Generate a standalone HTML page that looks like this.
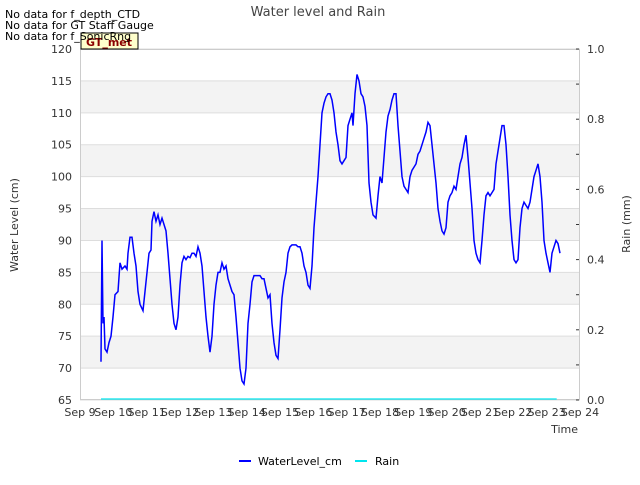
<!DOCTYPE html>
<html><head><meta charset="utf-8"><style>
body{margin:0;background:#fff;font-family:"Liberation Sans","DejaVu Sans",sans-serif}
svg text{font-family:"DejaVu Sans","Liberation Sans",sans-serif}
</style></head><body>
<svg id="chart" width="640" height="480" viewBox="0 0 640 480" xmlns="http://www.w3.org/2000/svg">
<g id="bands"></g><g id="grid"></g>
<rect x="80.5" y="49.5" width="499" height="350" fill="none" stroke="#ccc"/>
<g id="axes" font-size="11" fill="#333"></g>
<path id="rain" fill="none" stroke="#00e5ee" stroke-width="1.2"/>
<path id="wl" fill="none" stroke="#0000ff" stroke-width="1.5"/>
<text x="318" y="16" text-anchor="middle" font-size="13" fill="#444">Water level and Rain</text>
<rect x="81" y="33" width="57" height="16" fill="#ffffcc" stroke="#000"/>
<text x="109" y="46" text-anchor="middle" font-size="11" fill="#8b0000" font-weight="bold">GT_met</text>
<text x="5" y="18" font-size="11">No data for f_depth_CTD</text>
<text x="5" y="29" font-size="11">No data for GT Staff Gauge</text>
<text x="5" y="40" font-size="11">No data for f_SonicRng</text>
<text transform="translate(18,225) rotate(-90)" text-anchor="middle" font-size="11" fill="#333">Water Level (cm)</text>
<text transform="translate(630,224) rotate(-90)" text-anchor="middle" font-size="11" fill="#333">Rain (mm)</text>
<text x="578" y="433" text-anchor="end" font-size="11" fill="#333">Time</text>
<g>
<line x1="239" y1="461" x2="251" y2="461" stroke="#0000ff" stroke-width="2"/>
<text x="258" y="465" font-size="11">WaterLevel_cm</text>
<line x1="355" y1="461" x2="367" y2="461" stroke="#00e5ee" stroke-width="2"/>
<text x="375" y="465" font-size="11">Rain</text>
</g>
</svg>
<script>
const xTickLabels=["Sep 9","Sep 10","Sep 11","Sep 12","Sep 13","Sep 14","Sep 15","Sep 16","Sep 17","Sep 18","Sep 19","Sep 20","Sep 21","Sep 22","Sep 23","Sep 24"];
const yTicks=[65,70,75,80,85,90,95,100,105,110,115,120];
const y2Ticks=[0,0.2,0.4,0.6,0.8,1.0];
const wlDays=[0.63,0.66,0.69,0.72,0.75,0.81,0.87,0.93,0.99,1.05,1.14,1.2,1.26,1.35,1.41,1.44,1.5,1.56,1.62,1.68,1.74,1.8,1.89,1.95,2.01,2.07,2.13,2.16,2.22,2.28,2.34,2.4,2.46,2.52,2.58,2.64,2.7,2.76,2.82,2.88,2.94,3.0,3.06,3.12,3.18,3.24,3.3,3.36,3.42,3.48,3.54,3.6,3.66,3.72,3.78,3.84,3.9,3.96,4.02,4.08,4.14,4.2,4.26,4.32,4.38,4.44,4.5,4.56,4.62,4.68,4.74,4.8,4.86,4.92,4.98,5.04,5.1,5.16,5.22,5.28,5.4,5.46,5.52,5.58,5.64,5.7,5.76,5.82,5.88,5.94,6.0,6.06,6.12,6.18,6.24,6.3,6.36,6.48,6.54,6.6,6.66,6.72,6.78,6.84,6.9,6.96,7.02,7.08,7.14,7.2,7.26,7.32,7.38,7.44,7.5,7.56,7.62,7.68,7.74,7.8,7.86,7.92,7.98,8.04,8.1,8.16,8.19,8.25,8.31,8.37,8.43,8.49,8.55,8.61,8.67,8.73,8.79,8.88,8.94,9.0,9.06,9.12,9.18,9.24,9.3,9.36,9.42,9.48,9.54,9.6,9.66,9.72,9.78,9.84,9.9,9.96,10.02,10.08,10.14,10.2,10.26,10.32,10.38,10.44,10.5,10.56,10.62,10.68,10.74,10.8,10.86,10.92,10.98,11.04,11.1,11.16,11.22,11.28,11.34,11.4,11.46,11.52,11.58,11.64,11.7,11.76,11.82,11.88,11.94,12.0,12.06,12.12,12.18,12.24,12.3,12.36,12.42,12.48,12.54,12.6,12.66,12.72,12.78,12.84,12.9,12.96,13.02,13.08,13.14,13.2,13.26,13.32,13.38,13.44,13.5,13.56,13.62,13.68,13.74,13.8,13.86,13.92,13.98,14.04,14.1,14.16,14.22,14.28,14.34,14.4];
const wlValues=[71,90,77,78,73,72.5,74,75,78,81.5,82,86.5,85.5,86,85.5,88,90.5,90.5,88,86,82,80,79,82,85,88,88.5,93,94.5,93,94,92.5,93.5,92.5,91.5,88,84,80,77,76,78,83,86.5,87.5,87,87.5,87.3,88,88,87.5,89,88,86,82,78,75,72.5,75,80,83,85,85,86.5,85.5,86,84,83,82,81.5,78,74,70,68,67.5,70,77,80,83.5,84.5,84.5,84.5,84,84,82.5,81,81.5,77,74,72,71.5,76,81,83.5,85,88,89,89.3,89.3,89,89,88,86,85,83,82.5,86,92,96,100,105,110,111.5,112.5,113,113,112,110,107,105,102.5,102,102.5,103,108,109,110,108,113,116,115,113,112.5,111,108,99,96,94,93.5,97,100,99,103,107,109.5,110.5,112,113,113,108,104,100,98.5,98,97.5,100,101,101.5,102,103.5,104,105,106,107,108.5,108,105,102,99,95,93,91.5,91,92,96,97,97.5,98.5,98,100,102,103,105,106.5,103,99,95,90,88,87,86.5,90,94,97,97.5,97,97.5,98,102,104,106,108,108,105,100,94,90,87,86.5,87,92,95,96,95.5,95,96,98,100,101,102,100,96,90,88,86.5,85,88,89,90,89.5,88];
const rainDays=[0.63,3,6,9,12,14.3];
const rainValues=[0,0,0,0,0,0];
const L=80,R=580,T=49,B=400,ns="http://www.w3.org/2000/svg";
const xs=d=>L+(R-L)*d/15, ys=v=>B-(B-T)*(v-65)/55, ys2=v=>B-(B-T)*v;
function mk(tag,attrs,parent){const e=document.createElementNS(ns,tag);for(const k in attrs)e.setAttribute(k,attrs[k]);document.getElementById(parent).appendChild(e);return e;}
for(let i=0;i<yTicks.length-1;i++){if(i%2===1){const r=mk('rect',{x:L,y:ys(yTicks[i+1]),width:R-L,height:ys(yTicks[i])-ys(yTicks[i+1]),fill:'#f3f3f3'},'bands');

}}
yTicks.forEach(v=>{const l=mk('line',{x1:L,x2:R,y1:ys(v),y2:ys(v),stroke:'#ddd'},'grid');


const t=mk('text',{x:72,y:ys(v)+4,'text-anchor':'end'},'axes');t.textContent=v;

});
for(let k=0;k<=10;k++){const v=k/10;const tk=mk('line',{x1:R-4,x2:R-1,y1:ys2(v),y2:ys2(v),stroke:'#333'},'axes');

}
y2Ticks.forEach(v=>{const t=mk('text',{x:587,y:ys2(v)+4},'axes');t.textContent=v.toFixed(1);

});
xTickLabels.forEach((s,i)=>{const t=mk('text',{x:xs(i),y:416,'text-anchor':'middle'},'axes');t.textContent=s;

});
document.getElementById('wl').setAttribute('d',wlDays.map((d,i)=>(i?'L':'M')+xs(d).toFixed(1)+','+ys(wlValues[i]).toFixed(1)).join(''));
document.getElementById('rain').setAttribute('d',rainDays.map((d,i)=>(i?'L':'M')+xs(d).toFixed(1)+','+(ys2(rainValues[i])-1).toFixed(1)).join(''));
</script>
</body></html>
